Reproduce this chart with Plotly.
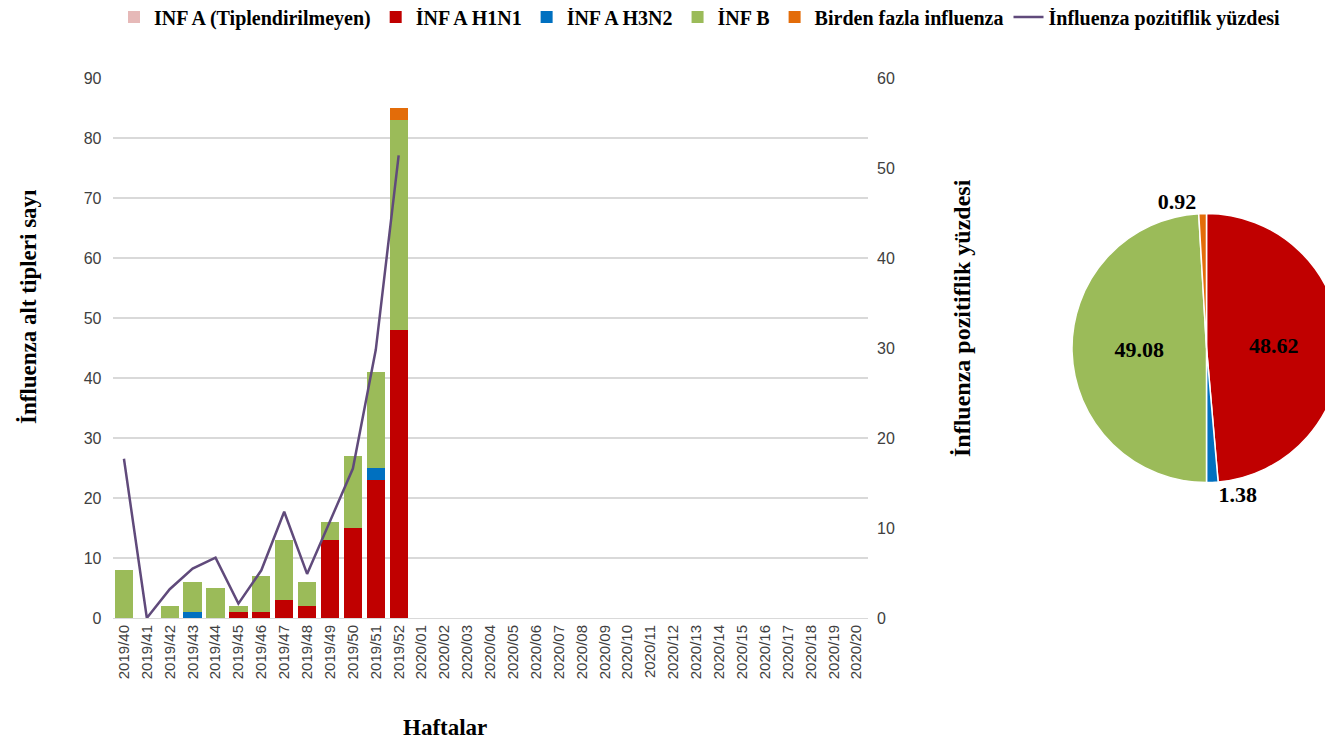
import plotly.graph_objects as go

weeks = ["2019/40", "2019/41", "2019/42", "2019/43", "2019/44", "2019/45", "2019/46",
         "2019/47", "2019/48", "2019/49", "2019/50", "2019/51", "2019/52",
         "2020/01", "2020/02", "2020/03", "2020/04", "2020/05", "2020/06", "2020/07",
         "2020/08", "2020/09", "2020/10", "2020/11", "2020/12", "2020/13", "2020/14",
         "2020/15", "2020/16", "2020/17", "2020/18", "2020/19", "2020/20"]
n_empty = len(weeks) - 13
inf_a_untyped = [0] * 13 + [None] * n_empty
inf_a_h1n1 = [0, 0, 0, 0, 0, 1, 1, 3, 2, 13, 15, 23, 48] + [None] * n_empty
inf_a_h3n2 = [0, 0, 0, 1, 0, 0, 0, 0, 0, 0, 0, 2, 0] + [None] * n_empty
inf_b = [8, 0, 2, 5, 5, 1, 6, 10, 4, 3, 12, 16, 35] + [None] * n_empty
multi = [0, 0, 0, 0, 0, 0, 0, 0, 0, 0, 0, 0, 2] + [None] * n_empty
positivity = [17.7, 0, 3.2, 5.5, 6.7, 1.6, 5.3, 11.8, 4.9, 10.8, 16.6, 29.8, 51.4] + [None] * n_empty

pie_labels = ["İNF A H1N1", "İNF A H3N2", "İNF B", "Birden fazla influenza"]
pie_values = [48.62, 1.38, 49.08, 0.92]

C_UNTYPED = "#E6B9B8"
C_H1N1 = "#C00000"
C_H3N2 = "#0070C0"
C_B = "#9BBB59"
C_MULTI = "#E36C09"
C_LINE = "#604A7B"

SERIF = "Liberation Serif"
SANS = "Liberation Sans"

W, H = 1333, 742
OFF = 8  # page body margin offset


def px(x):
    return (x - OFF) / W


def py(y):
    return 1 - (y - OFF) / H


fig = go.Figure()
for name, vals, col in [("INF A (Tiplendirilmeyen)", inf_a_untyped, C_UNTYPED),
                        ("İNF A H1N1", inf_a_h1n1, C_H1N1),
                        ("İNF A H3N2", inf_a_h3n2, C_H3N2),
                        ("İNF B", inf_b, C_B),
                        ("Birden fazla influenza", multi, C_MULTI)]:
    fig.add_trace(go.Bar(x=weeks, y=vals, name="<b>" + name + "</b>",
                         marker=dict(color=col, line=dict(width=0)),
                         xaxis="x", yaxis="y"))

fig.add_trace(go.Scatter(x=weeks, y=positivity, name="<b>İnfluenza pozitiflik yüzdesi</b>",
                         mode="lines", line=dict(color=C_LINE, width=2.5),
                         xaxis="x", yaxis="y2"))

fig.add_trace(go.Pie(labels=pie_labels, values=pie_values, sort=False, direction="clockwise",
                     rotation=0, showlegend=False,
                     marker=dict(colors=[C_H1N1, C_H3N2, C_B, C_MULTI],
                                 line=dict(color="white", width=1.5)),
                     texttemplate="<b>%{value:.2f}</b>", textinfo="value",
                     textposition=["inside", "outside", "inside", "outside"],
                     insidetextorientation="horizontal",
                     textfont=dict(family=SERIF, size=22, color="black"),
                     domain=dict(x=[px(1072), 1.0], y=[py(348 + 200), py(348 - 200)])))

fig.update_layout(
    width=W, height=H,
    paper_bgcolor="white", plot_bgcolor="white",
    margin=dict(l=0, r=0, t=0, b=0, autoexpand=False),
    barmode="stack", bargap=0.2,
    font=dict(family=SANS, color="#595959"),
    xaxis=dict(domain=[px(112.5), px(868)], anchor="y", tickangle=-90, automargin=False,
               tickfont=dict(family=SANS, size=15, color="#404040"),
               showgrid=False, showline=True, linecolor="#D9D9D9", ticks=""),
    yaxis=dict(range=[0, 90], dtick=10, domain=[py(618), py(78)], automargin=False,
               tickfont=dict(family=SANS, size=16, color="#404040"),
               showgrid=True, gridcolor="#D9D9D9", gridwidth=1.5, zeroline=False,
               showline=False, ticks="", ticklabelstandoff=10),
    yaxis2=dict(range=[0, 60], dtick=10, overlaying="y", side="right", anchor="x",
                automargin=False,
                tickfont=dict(family=SANS, size=16, color="#404040"),
                showgrid=False, zeroline=False, showline=False, ticks="", ticklabelstandoff=8),
    legend=dict(orientation="h", x=px(700), xanchor="center", y=py(17), yanchor="middle",
                yref="container",
                font=dict(family=SERIF, size=20, color="black"),
                itemwidth=30, tracegroupgap=0, traceorder="normal"),
    annotations=[
        dict(text="<b>İnfluenza alt tipleri sayı</b>", x=px(28), y=py(307),
             xanchor="center", yanchor="middle",
             xref="paper", yref="paper", textangle=-90, showarrow=False,
             font=dict(family=SERIF, size=23, color="black")),
        dict(text="<b>İnfluenza pozitiflik yüzdesi</b>", x=px(962), y=py(318),
             xanchor="center", yanchor="middle",
             xref="paper", yref="paper", textangle=-90, showarrow=False,
             font=dict(family=SERIF, size=24, color="black")),
        dict(text="<b>Haftalar</b>", x=px(445), y=py(727),
             xanchor="center", yanchor="middle",
             xref="paper", yref="paper", showarrow=False,
             font=dict(family=SERIF, size=23, color="black")),
    ],
)

fig.write_html("out.html")
